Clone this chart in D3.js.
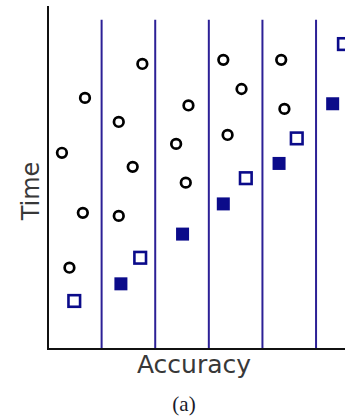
<!DOCTYPE html>
<html>
<head>
<meta charset="utf-8">
<script src="https://cdn.jsdelivr.net/npm/d3@7"></script>
<style>
  html, body { margin: 0; padding: 0; background: #fff; overflow: hidden; }
</style>
</head>
<body>
<div id="chart"></div>
<script>
// data (accuracy in column units, time 0..10)
const circleAcc  = [0.26, 0.69, 0.65, 0.40, 1.76, 1.32, 1.58, 1.32, 2.62, 2.39, 2.57, 3.27, 3.61, 3.35, 4.35, 4.41]
const circleTime = [5.72, 7.32, 3.97, 2.37, 8.31, 6.62, 5.31, 3.88, 7.10, 5.98, 4.85, 8.43, 7.58, 6.24, 8.43, 7.00]
const filledAcc  = [1.36, 2.51, 3.27, 4.31, 5.31]
const filledTime = [1.90, 3.35, 4.23, 5.41, 7.15]
const openAcc    = [0.49, 1.72, 3.69, 4.64, 5.52]
const openTime   = [1.40, 2.66, 4.98, 6.14, 8.89]
const dividers   = [1, 2, 3, 4, 5]

const sizing = { width: 345, height: 417 }
const margin = { top: 6, left: 48, bot: 68, right: 0 }
const lineBlue = "#2c2096"
const markBlue = "#0b0b8a"

const svg = d3.select("#chart").append("svg")
    .attr("width", sizing.width)
    .attr("height", sizing.height)

const x = d3.scaleLinear().domain([0, 5.54]).range([margin.left, sizing.width - margin.right])
const y = d3.scaleLinear().domain([0, 10]).range([sizing.height - margin.bot, margin.top])

// vertical separators
svg.append("g").selectAll("line")
    .data(dividers)
    .join("line")
    .attr("x1", d => x(d)).attr("x2", d => x(d))
    .attr("y1", y(9.6)).attr("y2", y(0))
    .attr("stroke", lineBlue)
    .attr("stroke-width", 2)

// axes (plain lines, no ticks)
svg.append("line")
    .attr("x1", x(0)).attr("x2", x(0))
    .attr("y1", y(10)).attr("y2", y(0) + 1)
    .attr("stroke", "#111").attr("stroke-width", 2)
svg.append("line")
    .attr("x1", x(0) - 1).attr("x2", x(5.54))
    .attr("y1", y(0)).attr("y2", y(0))
    .attr("stroke", "#111").attr("stroke-width", 2)

const circles = circleAcc.map((a, i) => ({ a: a, t: circleTime[i] }))
const filled = filledAcc.map((a, i) => ({ a: a, t: filledTime[i] }))
const open = openAcc.map((a, i) => ({ a: a, t: openTime[i] }))

svg.append("g").selectAll("circle")
    .data(circles)
    .join("circle")
    .attr("cx", d => x(d.a))
    .attr("cy", d => y(d.t))
    .attr("r", 4.8)
    .attr("fill", "none")
    .attr("stroke", "#000")
    .attr("stroke-width", 2.7)

svg.append("g").selectAll("rect")
    .data(filled)
    .join("rect")
    .attr("x", d => x(d.a) - 6.5)
    .attr("y", d => y(d.t) - 6.5)
    .attr("width", 13).attr("height", 13)
    .attr("fill", markBlue)

svg.append("g").selectAll("rect")
    .data(open)
    .join("rect")
    .attr("x", d => x(d.a) - 5.8)
    .attr("y", d => y(d.t) - 5.8)
    .attr("width", 11.6).attr("height", 11.6)
    .attr("fill", "#fff")
    .attr("stroke", markBlue)
    .attr("stroke-width", 2.6)

svg.append("text")
    .text("Accuracy")
    .attr("x", 194).attr("y", 373)
    .attr("text-anchor", "middle")
    .attr("font-family", "DejaVu Sans")
    .attr("font-size", 25)
    .attr("fill", "#383838")

svg.append("text")
    .text("Time")
    .attr("transform", "translate(39,191) rotate(-90)")
    .attr("text-anchor", "middle")
    .attr("font-family", "DejaVu Sans")
    .attr("font-size", 24)
    .attr("fill", "#383838")

svg.append("text")
    .text("(a)")
    .attr("x", 184).attr("y", 411)
    .attr("text-anchor", "middle")
    .attr("font-family", "Liberation Serif")
    .attr("font-size", 21)
    .attr("fill", "#1a1a2a")
</script>
</body>
</html>
